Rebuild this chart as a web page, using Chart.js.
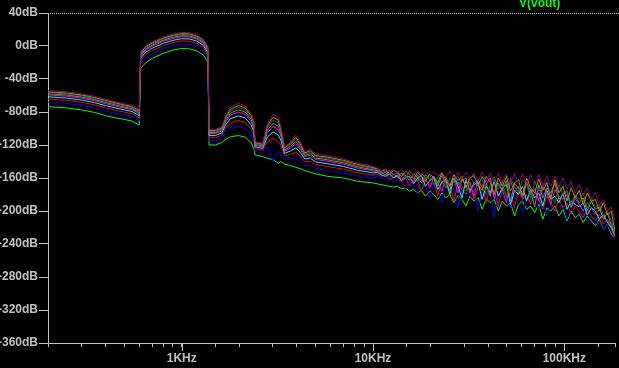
<!DOCTYPE html>
<html>
<head>
<meta charset="utf-8">
<script src="https://cdn.jsdelivr.net/npm/chart.js@4"></script>
<style>
  html, body { margin: 0; padding: 0; background: #000; }
  #wrap { width: 619px; height: 368px; }
</style>
</head>
<body>
<div id="wrap"><canvas id="fftChart" width="619" height="368"></canvas></div>
<script>
// frequency points (Hz), shared by all stepped traces
const freqs = [200, 250, 300, 350, 400, 450, 500, 550, 600, 610,
  650, 700, 800, 900, 1000, 1100, 1200, 1300, 1370, 1390,
  1500, 1620, 1700, 1800, 1980, 2150, 2300, 2380, 2420, 2650,
  2800, 3000, 3200, 3300, 3450, 3700, 3950, 4200, 4400, 4700,
  5000, 5800, 7000, 8300, 10000,
  10500, 11000, 11600, 12200, 12800, 13400, 14100, 14800, 15500, 16300,
  17100, 17900, 18800, 19800, 20800, 21800, 22900, 24000, 25200, 26500,
  27800, 29200, 30600, 32100, 33700, 35400, 37200, 39000, 41000, 43000,
  45200, 47400, 49800, 52300, 54900, 57600, 60500, 63500, 66700, 70000,
  73500, 77200, 81000, 85000, 89300, 93700, 98400, 103300, 108500, 113900,
  119600, 125500, 131800, 138400, 145300, 152500, 160100, 168100, 176000, 184000];

// V(vout) in dB for each step of the parameter
const stepGreen = [-73.5, -75, -77.5, -80.5, -84.5, -87, -89, -91, -96,
  -27, -20, -15, -9, -5, -3, -3.5, -6, -11, -20,
  -120, -120, -117, -113, -110, -108.5, -110.5, -117, -124, -132, -134, -136, -138, -142, -140, -143, -145, -147, -149, -151, -153, -155, -158, -160, -164, -166,
  -167, -168, -169, -170, -171, -170, -173, -172, -176, -174, -178, -175, -182, -176, -180, -186, -178, -184, -180, -190,
  -181, -186, -194, -182, -188, -184, -198, -185, -190, -186, -200, -188, -194, -190, -206, -192, -188, -198, -194, -202,
  -192, -210, -196, -200, -194, -206, -198, -212, -200, -208, -204, -214, -206, -212, -218, -210, -222, -216, -228, -233];
const stepBlue = [-68, -69.5, -72, -75, -78.9, -81.5, -83.7, -85.7, -90.7,
  -21.4, -14.1, -9.4, -3.4, 0.5, 2.5, 2, -0.5, -5.7, -14.7,
  -114.7, -114.7, -111.7, -104.9, -99.9, -97.6, -99.9, -107.1, -114.5, -127.5, -129.5, -122, -140, -128, -130, -137.1, -136.9, -136.1, -140.3, -144.6, -145.2, -148.3, -151, -153.6, -157.8, -160.4,
  -158, -160, -163, -159, -166, -162, -164, -172, -163, -168, -178, -165, -170, -184, -167, -174, -190, -168, -178, -172,
  -196, -170, -180, -186, -172, -200, -176, -182, -174, -208, -178, -188, -182, -196, -180, -190, -202, -184, -192, -186,
  -198, -188, -206, -192, -196, -200, -192, -210, -198, -204, -208, -200, -214, -206, -216, -212, -222, -216, -226, -233];
const stepRed = [-64.3, -65.8, -68.3, -71.3, -75.1, -77.8, -80.1, -82.1, -87.1,
  -17.6, -10.1, -5.6, 0.4, 4.2, 6.2, 5.7, 3.2, -2.1, -11.1,
  -111.1, -111.1, -108.1, -99.4, -93.1, -90.2, -92.6, -100.3, -108, -124.5, -126.5, -116.3, -111.9, -115.7, -120.3, -133.1, -131.4, -128.7, -134.4, -140.2, -139.8, -143.7, -146.3, -149.2, -153.7, -156.6,
  -155, -158, -156, -162, -159, -157, -165, -160, -170, -161, -163, -176, -162, -168, -165, -182, -163, -172, -168, -188,
  -165, -175, -180, -166, -186, -172, -168, -190, -170, -176, -194, -172, -182, -178, -196, -174, -186, -180, -192, -177,
  -186, -198, -182, -190, -200, -186, -196, -190, -204, -194, -200, -208, -198, -206, -212, -204, -216, -210, -222, -232];
const stepCyan = [-61.6, -63.1, -65.6, -68.6, -72.3, -75.1, -77.4, -79.4, -84.4,
  -14.8, -7.2, -2.8, 3.2, 6.9, 8.9, 8.4, 5.9, 0.6, -8.4,
  -108.4, -108.4, -105.4, -95.3, -88, -84.7, -87.3, -95.3, -103.3, -122.2, -124.2, -110.4, -104.1, -107.8, -114.4, -130.2, -127.3, -123.2, -130.1, -137, -135.9, -140.4, -142.8, -146, -150.6, -153.8,
  -153, -156, -158, -155, -160, -157, -163, -159, -158, -167, -160, -157, -170, -163, -160, -174, -165, -162, -180, -160,
  -170, -184, -163, -175, -168, -165, -186, -170, -178, -164, -182, -172, -168, -192, -175, -180, -170, -188, -174, -184,
  -178, -194, -175, -186, -182, -190, -178, -198, -188, -192, -195, -190, -205, -196, -200, -210, -204, -214, -220, -230];
const stepMagenta = [-59.3, -60.8, -63.3, -66.3, -69.9, -72.8, -75.1, -77.1, -82.1,
  -12.4, -4.7, -0.4, 5.6, 9.2, 11.2, 10.7, 8.2, 2.9, -6.1,
  -106.1, -106.1, -103.1, -91.8, -83.7, -80, -82.8, -91.1, -99.2, -120.3, -122.3, -105.3, -97.5, -101.1, -109.3, -127.7, -123.8, -118.5, -126.4, -134.2, -132.6, -137.5, -139.8, -143.2, -147.9, -151.4,
  -152, -155, -153, -158, -156, -154, -162, -157, -159, -165, -156, -163, -160, -172, -158, -166, -176, -159, -168, -162,
  -178, -160, -170, -165, -182, -161, -172, -168, -160, -185, -166, -174, -190, -163, -178, -170, -184, -166, -180, -173,
  -188, -170, -178, -192, -174, -182, -186, -180, -196, -185, -192, -200, -190, -196, -204, -198, -208, -212, -215, -228];
const stepGray = [-57.9, -59.4, -61.9, -64.9, -68.5, -71.4, -73.8, -75.8, -80.8,
  -11, -3.2, 1, 7, 10.6, 12.6, 12.1, 9.6, 4.2, -4.8,
  -104.8, -104.8, -101.8, -89.8, -81.2, -77.3, -80.1, -88.6, -96.8, -119.2, -121.2, -102.4, -93.6, -97.2, -106.4, -126.2, -121.8, -115.8, -124.2, -132.6, -130.6, -135.8, -138, -141.6, -146.4, -150,
  -151, -153, -156, -152, -155, -159, -154, -157, -163, -155, -159, -166, -156, -162, -158, -170, -157, -165, -175, -158,
  -168, -163, -160, -178, -165, -170, -158, -166, -182, -162, -168, -175, -163, -188, -167, -172, -180, -165, -176, -195,
  -168, -184, -172, -178, -166, -186, -180, -176, -195, -182, -190, -184, -200, -188, -198, -195, -210, -202, -218, -230];
const stepDarkGreen = [-56.5, -58, -60.5, -63.5, -67.1, -70, -72.5, -74.5, -79.5,
  -9.6, -1.7, 2.4, 8.4, 12, 14, 13.5, 11, 5.5, -3.5,
  -103.5, -103.5, -100.5, -87.8, -78.7, -74.6, -77.4, -86.1, -94.4, -118.1, -120.1, -99.5, -89.7, -93.3, -103.5, -124.7, -119.8, -113.1, -122, -131, -128.6, -134.1, -136.3, -140, -144.9, -148.6,
  -150, -154, -152, -151, -157, -153, -155, -160, -152, -158, -165, -154, -160, -156, -168, -158, -155, -172, -160, -164,
  -157, -170, -176, -159, -166, -162, -160, -180, -168, -158, -174, -163, -184, -160, -170, -178, -162, -168, -186, -164,
  -176, -170, -164, -182, -190, -168, -180, -175, -192, -180, -186, -178, -196, -185, -195, -192, -205, -200, -212, -228];
const stepOlive = [-55.4, -56.9, -59.4, -62.4, -65.9, -68.9, -71.3, -73.3, -78.3,
  -8.4, -0.5, 3.6, 9.6, 13.1, 15.1, 14.6, 12.1, 6.7, -2.3,
  -102.3, -102.3, -99.3, -86, -76.5, -72.2, -75.2, -84, -92.4, -117.1, -119.1, -97, -86.4, -89.9, -101, -123.5, -118, -110.7, -120.2, -129.6, -127, -132.7, -134.8, -138.6, -143.5, -147.4,
  -149, -152, -150, -155, -151, -153, -158, -152, -156, -161, -153, -158, -164, -155, -160, -166, -154, -162, -170, -156,
  -163, -158, -172, -160, -157, -168, -175, -158, -165, -180, -160, -170, -158, -176, -166, -162, -182, -160, -172, -178,
  -161, -175, -166, -185, -162, -178, -170, -188, -172, -184, -175, -192, -178, -188, -186, -200, -190, -205, -200, -225];
const stepPurple = [-54, -55.5, -58, -61, -64.5, -67.5, -70, -72, -77,
  -7, 1, 5, 11, 14.5, 16.5, 16, 13.5, 8, -1,
  -101, -101, -98, -84, -74, -69.5, -72.5, -81.5, -90, -116, -118, -94, -82.5, -86, -98, -122, -116, -108, -118, -128, -125, -131, -133, -137, -142, -146,
  -148, -151, -149, -152, -150, -153, -150, -154, -151, -155, -151, -156, -152, -157, -152, -158, -153, -159, -152, -160,
  -153, -161, -153, -162, -154, -163, -153, -164, -154, -165, -154, -166, -155, -166, -154, -167, -155, -168, -156, -168,
  -156, -169, -157, -170, -158, -172, -160, -174, -164, -178, -168, -182, -172, -187, -178, -193, -186, -200, -195, -212];

const yTicks = [40, 0, -40, -80, -120, -160, -200, -240, -280, -320, -360];
const decadeLabels = { 1000: '1KHz', 10000: '10KHz', 100000: '100KHz' };

const steps = [
  { data: stepGreen, color: '#00ff00' },
  { data: stepBlue, color: '#0000ff' },
  { data: stepRed, color: '#ff0000' },
  { data: stepCyan, color: '#00ffff' },
  { data: stepMagenta, color: '#ff00ff' },
  { data: stepGray, color: '#808080' },
  { data: stepDarkGreen, color: '#008000' },
  { data: stepOlive, color: '#c08800' },
  { data: stepPurple, color: '#8c008c' },
];

const axisGray = '#c0c0c0';

// black background, top dotted frame line, longer decade ticks, trace name
const ltspiceLook = {
  id: 'ltspiceLook',
  beforeDraw(chart) {
    const ctx = chart.ctx;
    ctx.save();
    ctx.fillStyle = '#000';
    ctx.fillRect(0, 0, chart.width, chart.height);
    ctx.restore();
  },
  afterDraw(chart) {
    const ctx = chart.ctx;
    const area = chart.chartArea;
    const x = chart.scales.x;
    ctx.save();
    ctx.strokeStyle = axisGray;
    ctx.lineWidth = 1;
    ctx.setLineDash([1, 1]);
    ctx.beginPath();
    ctx.moveTo(area.left, area.top + 0.5);
    ctx.lineTo(chart.width, area.top + 0.5);
    ctx.stroke();
    ctx.setLineDash([]);
    ctx.beginPath();
    [1000, 10000, 100000].forEach(v => {
      const px = Math.round(x.getPixelForValue(v)) + 0.5;
      ctx.moveTo(px, area.bottom);
      ctx.lineTo(px, area.bottom + 8);
    });
    ctx.stroke();
    ctx.fillStyle = '#00ff00';
    ctx.font = 'bold 12px "Liberation Sans"';
    ctx.textBaseline = 'top';
    ctx.textAlign = 'left';
    ctx.fillText('V(vout)', 519, -2);
    ctx.restore();
  }
};

const fftChart = new Chart(document.getElementById('fftChart'), {
  type: 'line',
  data: {
    datasets: steps.map((s, i) => ({
      label: 'V(vout)',
      data: freqs.map((f, j) => ({ x: f, y: s.data[j] })),
      borderColor: s.color,
      borderWidth: 1,
      pointRadius: 0,
      tension: 0,
      fill: false,
      order: steps.length - i,
    })),
  },
  options: {
    responsive: false,
    devicePixelRatio: 1,
    animation: false,
    layout: { padding: { top: 13, right: 0, left: 0, bottom: 0 } },
    plugins: {
      legend: { display: false },
      tooltip: { enabled: false },
    },
    scales: {
      x: {
        type: 'logarithmic',
        min: 200,
        max: 184000,
        afterFit: s => { s.height = 25; },
        grid: { drawOnChartArea: false, color: axisGray, tickLength: 4 },
        border: { color: axisGray, dash: [1, 1] },
        ticks: {
          color: axisGray,
          autoSkip: false,
          maxRotation: 0,
          padding: 4,
          font: { family: 'Liberation Sans', size: 12, weight: 'bold' },
          callback: v => decadeLabels[v] || '',
        },
      },
      y: {
        min: -360,
        max: 40,
        afterFit: s => { s.width = 48; },
        afterBuildTicks: s => { s.ticks = yTicks.map(v => ({ value: v })); },
        grid: { drawOnChartArea: false, color: axisGray, tickLength: 9 },
        border: { color: axisGray, dash: [1, 1] },
        ticks: {
          color: axisGray,
          padding: 1,
          font: { family: 'Liberation Sans', size: 12, weight: 'bold' },
          callback: v => v + 'dB',
        },
      },
    },
  },
  plugins: [ltspiceLook],
});
</script>
</body>
</html>
